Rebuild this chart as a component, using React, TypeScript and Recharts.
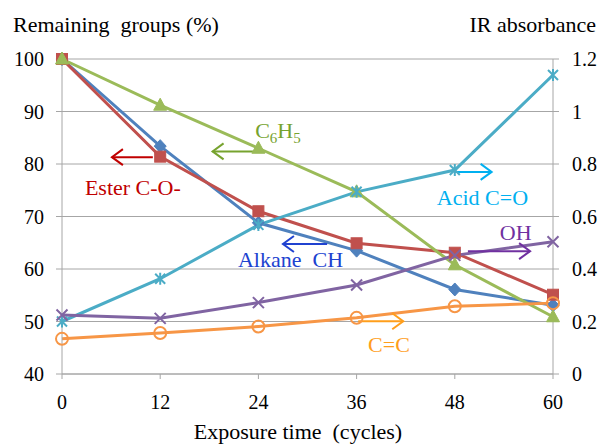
import React from 'react';
import {
  LineChart, Line, XAxis, YAxis, CartesianGrid, ReferenceLine, ReferenceDot, Label,
} from 'recharts';

// exposure time (cycles)
const cycles = [0, 12, 24, 36, 48, 60];

// remaining groups (%) - left axis
const alkaneCH = [100, 83.4, 68.8, 63.5, 56.1, 53.1];
const esterCO = [100, 81.4, 71.0, 64.9, 63.1, 55.1];
const c6h5 = [100, 91.2, 83.0, 74.7, 60.8, 50.9];

// IR absorbance - right axis
const acidCO = [0.2, 0.363, 0.568, 0.694, 0.777, 1.139];
const oh = [0.225, 0.212, 0.272, 0.339, 0.452, 0.504];
const cc = [0.134, 0.156, 0.181, 0.214, 0.258, 0.27];

const leftTicks = [40, 50, 60, 70, 80, 90, 100];
const rightTicks = [0, 0.2, 0.4, 0.6, 0.8, 1, 1.2];

const data = cycles.map((x, i) => ({
  x,
  alkane: alkaneCH[i],
  ester: esterCO[i],
  c6h5: c6h5[i],
  acid: acidCO[i],
  oh: oh[i],
  cc: cc[i],
}));

// annotation arrows + labels, in (cycles, %) coordinates
const notes = [
  { text: 'Ester C-O-', color: '#C00000', from: [11.1, 81.3], to: [6.1, 81.3], at: [2.8, 74.1] },
  { text: 'C6H5', color: '#77A32F', from: [23.9, 82.4], to: [18.4, 82.4], at: [23.6, 85.0] },
  { text: 'Alkane  CH', color: '#2042D0', from: [32.4, 64.75], to: [27.0, 64.75], at: [21.5, 60.4] },
  { text: 'Acid C=O', color: '#00B0F0', from: [48.0, 78.5], to: [52.5, 78.5], at: [45.8, 72.2] },
  { text: 'OH', color: '#7030A0', from: [49.6, 63.4], to: [57.2, 63.4], at: [53.5, 65.5] },
  { text: 'C=C', color: '#FF9E1B', from: [36.2, 50.06], to: [41.7, 50.06], at: [37.4, 44.1] },
];

const SERIF = "'Liberation Serif', serif";
const GRID = '#A6A6A6';
const tickStyle = { fontSize: 20, fill: '#000', fontFamily: SERIF };
const titleStyle = { fontFamily: SERIF, whiteSpace: 'pre' as const };

const makeDot = (kind: string, color: string) => (p: any) => {
  const { cx, cy, index } = p;
  if (cx == null || cy == null) return <g key={index} />;
  const k = `${kind}-${index}`;
  switch (kind) {
    case 'diamond':
      return <path key={k} d={`M${cx},${cy - 6.5}L${cx + 6},${cy}L${cx},${cy + 6.5}L${cx - 6},${cy}Z`} fill={color} stroke={color} />;
    case 'square':
      return <rect key={k} x={cx - 5.5} y={cy - 5.5} width={11} height={11} fill={color} stroke={color} />;
    case 'triangle':
      return <path key={k} d={`M${cx},${cy - 7}L${cx + 6.5},${cy + 5}L${cx - 6.5},${cy + 5}Z`} fill={color} stroke={color} />;
    case 'star':
      return (
        <path key={k} d={`M${cx - 5},${cy - 5}L${cx + 5},${cy + 5}M${cx - 5},${cy + 5}L${cx + 5},${cy - 5}M${cx},${cy - 6}L${cx},${cy + 6}`}
          stroke={color} strokeWidth={2} fill="none" />
      );
    case 'x':
      return (
        <path key={k} d={`M${cx - 5.5},${cy - 5.5}L${cx + 5.5},${cy + 5.5}M${cx - 5.5},${cy + 5.5}L${cx + 5.5},${cy - 5.5}`}
          stroke={color} strokeWidth={2} fill="none" />
      );
    default:
      return <circle key={k} cx={cx} cy={cy} r={6} fill="none" stroke={color} strokeWidth={2} />;
  }
};

const Arrow = (color: string) => (p: any) => {
  const { x1, y1, x2, y2 } = p;
  const dir = x2 > x1 ? 1 : -1;
  return (
    <g stroke={color} strokeWidth={2} fill="none">
      <line x1={x1} y1={y1} x2={x2} y2={y2} />
      <path d={`M${x2 - dir * 11},${y2 - 8}L${x2},${y2}L${x2 - dir * 11},${y2 + 8}`} />
    </g>
  );
};

const NoteText = (text: string, color: string) => (p: any) => {
  const { cx, cy } = p;
  if (text === 'C6H5') {
    return (
      <text x={cx} y={cy} fontSize={22} fill={color} fontFamily={SERIF} style={titleStyle}>
        C<tspan fontSize={15} dy={5}>6</tspan><tspan dy={-5}>H</tspan><tspan fontSize={15} dy={5}>5</tspan>
      </text>
    );
  }
  return <text x={cx} y={cy} fontSize={22} fill={color} fontFamily={SERIF} style={titleStyle}>{text}</text>;
};

const series = [
  { key: 'alkane', color: '#4F81BD', dot: 'diamond', axis: 'left' },
  { key: 'ester', color: '#C0504D', dot: 'square', axis: 'left' },
  { key: 'c6h5', color: '#9BBB59', dot: 'triangle', axis: 'left' },
  { key: 'acid', color: '#4BACC6', dot: 'star', axis: 'right' },
  { key: 'oh', color: '#8064A2', dot: 'x', axis: 'right' },
  { key: 'cc', color: '#F79646', dot: 'circle', axis: 'right' },
];

export default function App() {
  return (
    <div style={{ position: 'absolute', left: 0, top: 0, background: '#fff', fontFamily: SERIF }}>
      <LineChart width={601} height={444} data={data} margin={{ top: 59, right: 0, bottom: 30, left: 0 }}
        style={{ fontFamily: SERIF }}>
        <CartesianGrid yAxisId="left" vertical={false} stroke={GRID} />
        <XAxis
          dataKey="x" type="number" domain={[0, 60]} ticks={cycles} height={40}
          tick={tickStyle} tickSize={5} tickMargin={16}
          axisLine={{ stroke: GRID }} tickLine={{ stroke: GRID }}
        >
          <Label content={() => (
            <text x={298} y={439} textAnchor="middle" fontSize={22} fontFamily={SERIF} style={titleStyle}>
              Exposure time  (cycles)
            </text>
          )} />
        </XAxis>
        <YAxis
          yAxisId="left" domain={[40, 100]} ticks={leftTicks} width={62}
          tick={tickStyle} tickSize={6} tickMargin={12}
          axisLine={{ stroke: GRID }} tickLine={{ stroke: GRID }}
        >
          <Label content={() => (
            <text x={13} y={32} fontSize={22} fontFamily={SERIF} style={titleStyle}>
              Remaining  groups (%)
            </text>
          )} />
        </YAxis>
        <YAxis
          yAxisId="right" orientation="right" domain={[0, 1.2]} ticks={rightTicks} width={48}
          tick={{ ...tickStyle, textAnchor: 'start' }} tickSize={6} tickMargin={13}
          tickFormatter={(v: number) => String(+v.toFixed(1))}
          axisLine={{ stroke: GRID }} tickLine={{ stroke: GRID }}
        >
          <Label content={() => (
            <text x={596} y={32} textAnchor="end" fontSize={22} fontFamily={SERIF} style={titleStyle}>
              IR absorbance
            </text>
          )} />
        </YAxis>
        {series.map((s) => (
          <Line
            key={s.key} yAxisId={s.axis} dataKey={s.key} stroke={s.color} strokeWidth={3}
            dot={makeDot(s.dot, s.color)} activeDot={false} isAnimationActive={false}
          />
        ))}
        {notes.map((n) => (
          <ReferenceLine
            key={`a-${n.text}`} yAxisId="left" ifOverflow="visible"
            segment={[{ x: n.from[0], y: n.from[1] }, { x: n.to[0], y: n.to[1] }]}
            shape={Arrow(n.color)}
          />
        ))}
        {notes.map((n) => (
          <ReferenceDot
            key={`t-${n.text}`} yAxisId="left" x={n.at[0]} y={n.at[1]} ifOverflow="visible"
            shape={NoteText(n.text, n.color)}
          />
        ))}
      </LineChart>
    </div>
  );
}
